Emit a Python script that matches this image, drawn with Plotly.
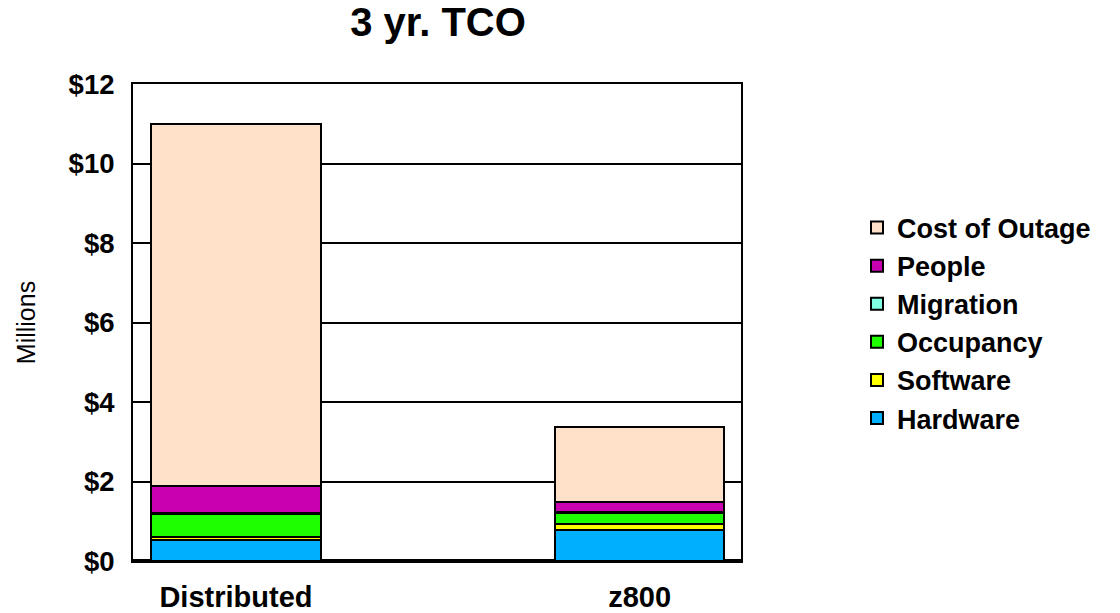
import plotly.graph_objects as go

categories = ["Distributed", "z800"]
series_names = ["Hardware", "Software", "Occupancy", "Migration", "People", "Cost of Outage"]
hardware = [0.53, 0.78]
software = [0.08, 0.14]
occupancy = [0.57, 0.29]
migration = [0.02, 0.02]
people = [0.69, 0.26]
cost_of_outage = [9.11, 1.87]
series_values = [hardware, software, occupancy, migration, people, cost_of_outage]
colors = ["#00B0FF", "#FFFF00", "#1EFF00", "#80FFE0", "#C800B0", "#FFE0C8"]
tick_vals = [0, 2, 4, 6, 8, 10, 12]
tick_text = ["$0", "$2", "$4", "$6", "$8", "$10", "$12"]

FONT = "Liberation Sans, Arial, sans-serif"
L, R, T, B = 133, 741, 84, 561
W, H = 1120, 613

fig = go.Figure()
for name, vals, col in zip(series_names, series_values, colors):
    fig.add_trace(go.Bar(
        x=categories, y=vals, name=name,
        marker=dict(color=col, line=dict(color="black", width=2)),
        width=0.42,
    ))

fig.update_layout(
    template="none",
    barmode="stack",
    width=W, height=H,
    margin=dict(l=L, r=W - R, t=T, b=H - B, pad=0),
    paper_bgcolor="white", plot_bgcolor="white",
    font=dict(family=FONT, color="black"),
    title=dict(text="<b>3 yr. TCO</b>", x=(L + R + 2) / 2 / W, xanchor="center",
               y=1 - 22 / H, yanchor="middle", font=dict(size=40, family=FONT, color="black")),
    legend=dict(
        x=(857 - L) / (R - L), xanchor="left",
        y=(B - 323) / (B - T), yanchor="middle",
        traceorder="reversed",
        font=dict(size=27, family=FONT, color="black", weight="bold"),
        bgcolor="rgba(0,0,0,0)", borderwidth=0,
    ),
    showlegend=True,
)

fig.update_xaxes(
    range=[-0.255, 1.251],
    showline=True, linecolor="black", linewidth=2, mirror=True,
    showgrid=False, ticks="", automargin=False,
    tickfont=dict(size=29, family=FONT, color="black", weight="bold"),
    ticklabelstandoff=9,
)
fig.update_yaxes(
    range=[0, 12],
    tickvals=tick_vals, ticktext=tick_text,
    showline=True, linecolor="black", linewidth=2, mirror=True,
    showgrid=True, gridcolor="black", gridwidth=2,
    zeroline=True, zerolinecolor="black", zerolinewidth=4,
    ticks="", automargin=False,
    tickfont=dict(size=27.5, family=FONT, color="black", weight="bold"),
    ticklabelstandoff=11,
    title=dict(text="Millions", font=dict(size=25, family=FONT, color="black"), standoff=26),
)

fig.write_html("out.html", config={"displayModeBar": False},
               post_script="document.body.style.margin='0';")
